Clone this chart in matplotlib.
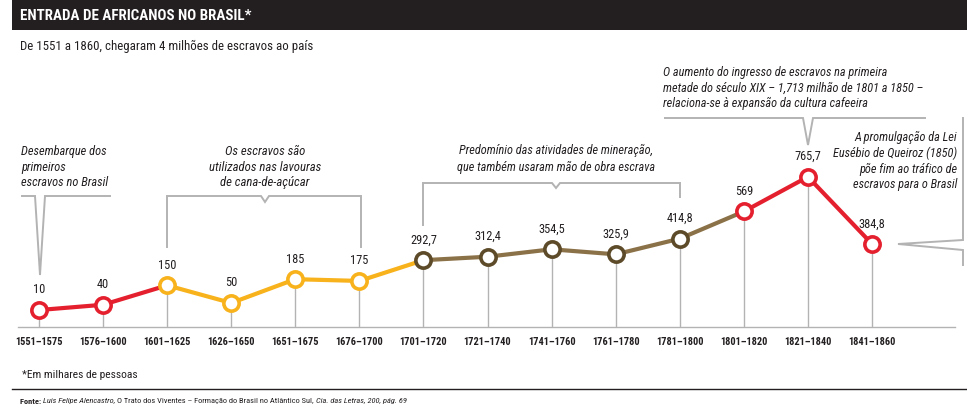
import matplotlib
matplotlib.use("Agg")
import matplotlib.pyplot as plt
from matplotlib import font_manager as fm

# ---------------- data ----------------
periods = ["1551–1575", "1576–1600", "1601–1625", "1626–1650", "1651–1675",
           "1676–1700", "1701–1720", "1721–1740", "1741–1760", "1761–1780",
           "1781–1800", "1801–1820", "1821–1840", "1841–1860"]
values = [10, 40, 150, 50, 185, 175, 292.7, 312.4, 354.5, 325.9, 414.8, 569, 765.7, 384.8]
groups = ["red", "red", "yellow", "yellow", "yellow", "yellow",
          "brown", "brown", "brown", "brown", "brown", "red", "red", "red"]

title = "ENTRADA DE AFRICANOS NO BRASIL*"
subtitle = "De 1551 a 1860, chegaram 4 milhões de escravos ao país"
footnote = "*Em milhares de pessoas"
source_parts = [("Fonte: ", "bold", "normal"),
                ("Luis Felipe Alencastro, ", "normal", "italic"),
                ("O Trato dos Viventes – Formação do Brasil no Atlântico Sul, ", "normal", "normal"),
                ("Cia. das Letras, 200, pág. 69", "normal", "italic")]

# ---------------- fonts ----------------
def pick(names):
    for n in names:
        try:
            fm.findfont(fm.FontProperties(family=n), fallback_to_default=False)
            return n
        except Exception:
            pass
    return "DejaVu Sans"

COND = pick(["Roboto Condensed", "Liberation Sans Narrow", "Roboto", "Open Sans"])
FAM = [COND, "DejaVu Sans"]
plt.rcParams["font.family"] = FAM

line_col = {"red": "#e5202e", "yellow": "#f8b21c", "brown": "#8b7147"}
edge_col = {"red": "#e5202e", "yellow": "#f8b21c", "brown": "#5c4a28"}
GRAY = "#b3b3b3"
TXT = "#231f20"

W, H = 967, 417
fig = plt.figure(figsize=(W / 100, H / 100), dpi=100)
R = fig.canvas.get_renderer()

def fit(t, target_px, pitch=None):
    """Scale a text's font size so its (widest line) width matches target_px."""
    w = t.get_window_extent(renderer=R).width
    fs = t.get_fontsize() * target_px / w
    t.set_fontsize(fs)
    if pitch is not None:
        t.set_linespacing(pitch / (fs * 100 / 72))
    return fs

# overlay axes in pixel coordinates for decoration
ov = fig.add_axes([0, 0, 1, 1])
ov.set_xlim(0, W)
ov.set_ylim(H, 0)
ov.axis("off")

# title bar
ov.add_patch(plt.Rectangle((12, 0), W - 12, 30, color=TXT, lw=0))
t = ov.text(20, 16, title, color="white", fontsize=12, fontweight="bold",
            va="center", ha="left")
fit(t, 231)
t = ov.text(20, 46, subtitle, color=TXT, fontsize=10, va="center", ha="left")
fit(t, 290)

# footnotes
t = ov.text(22, 375, footnote, color=TXT, fontsize=9, va="center", ha="left")
fit(t, 116)
ov.plot([12, W], [389, 389], color=TXT, lw=1)

def lay_source(fs):
    arts, x = [], 20
    for s, wt, st in source_parts:
        a = ov.text(x, 401, s, color=TXT, fontsize=fs, fontweight=wt, style=st,
                    va="center", ha="left")
        bb = a.get_window_extent(renderer=R)
        x += bb.width
        arts.append(a)
    return arts, x - 20

arts, tot = lay_source(7)
for a in arts:
    a.remove()
arts, tot = lay_source(7 * 390 / tot)

# annotation brackets
def poly(xs, ys):
    ov.plot(xs, ys, color=GRAY, lw=1.4, solid_joinstyle="miter")

ann_kw = dict(color=TXT, fontsize=9.8, style="italic")
t = ov.text(21, 167, "Desembarque dos\nprimeiros\nescravos no Brasil", ha="left", va="center", **ann_kw)
fit(t, 87, 16)
poly([22, 35, 40, 45, 110], [196, 196, 275, 196, 196])

t = ov.text(265, 167, "Os escravos são\nutilizados nas lavouras\nde cana-de-açúcar", ha="center",
            va="center", **ann_kw)
fit(t, 112, 16)
poly([167, 167, 261, 265, 269, 361, 361], [247, 196, 196, 202, 196, 196, 247])

t = ov.text(556, 159, "Predomínio das atividades de mineração,\nque também usaram mão de obra escrava",
            ha="center", va="center", **ann_kw)
fit(t, 199, 16.5)
poly([423, 423, 552, 556, 560, 680, 680], [225, 183, 183, 188, 183, 183, 197])

t = ov.text(663, 88, "O aumento do ingresso de escravos na primeira\nmetade do século XIX – 1,713 milhão de 1801 a 1850 –\nrelaciona-se à expansão da cultura cafeeira",
            ha="left", va="center", **ann_kw)
fit(t, 261, 15.5)
poly([665, 803, 808, 813, 925], [118, 118, 145, 118, 118])

t = ov.text(957, 161, "A promulgação da Lei\nEusébio de Queiroz (1850)\npõe fim ao tráfico de\nescravos para o Brasil",
            ha="right", va="center", **ann_kw)
fit(t, 124, 15.5)
poly([963, 963, 898, 963, 963], [118, 240, 244, 250, 265])

# ---------------- chart axes ----------------
x_left_px, x_right_px = 18, 955
axis_px, top_px = 327, 100
ax = fig.add_axes([x_left_px / W, (H - axis_px) / H,
                   (x_right_px - x_left_px) / W, (axis_px - top_px) / H])
ax.patch.set_alpha(0)
n = len(values)
step = (872 - 39) / (n - 1)
ax.set_xlim(-(39 - x_left_px) / step, (n - 1) + (x_right_px - 872) / step)
scale = 0.1763  # px per unit
zero_px = 311.8
ax.set_ylim(-(axis_px - zero_px) / scale, (zero_px - top_px) / scale)

xs = list(range(n))
ybot = ax.get_ylim()[0]
ax.vlines(xs, ybot, values, color=GRAY, lw=1, zorder=1)

for i in range(n - 1):
    ax.plot([xs[i], xs[i + 1]], [values[i], values[i + 1]],
            color=line_col[groups[i]], lw=3, solid_capstyle="butt", zorder=2)

labels = []
for i in range(n):
    ax.plot(xs[i], values[i], marker="o", ms=11, mfc="white",
            mec=edge_col[groups[i]], mew=2.6, zorder=3)
    lab = f"{values[i]:g}".replace(".", ",")
    a = ax.annotate(lab, (xs[i], values[i]), xytext=(0, 14.5), textcoords="offset points",
                    ha="center", va="center", fontsize=10, color=TXT, zorder=4)
    labels.append(a)
fs_val = fit(labels[8], 27)
for a in labels:
    a.set_fontsize(fs_val)

for s in ["top", "right", "left"]:
    ax.spines[s].set_visible(False)
ax.spines["bottom"].set_color(GRAY)
ax.spines["bottom"].set_linewidth(1)
ax.set_yticks([])
ax.set_xticks(xs)
ax.set_xticklabels(periods, fontsize=8, fontweight="bold", color=TXT)
ax.tick_params(axis="x", length=0, pad=7)
tl = ax.get_xticklabels()
fs_tick = fit(tl[0], 48)
for a in tl:
    a.set_fontsize(fs_tick)

fig.savefig("out.png", dpi=100)
